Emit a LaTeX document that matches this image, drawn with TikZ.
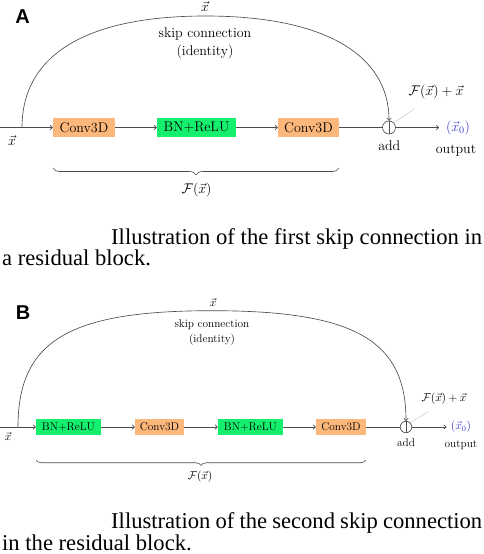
\RequirePackage{fix-cm}
\documentclass[tikz,border=0pt]{standalone}
\usepackage{fontspec}
\usetikzlibrary{arrows.meta,decorations.pathreplacing}
\newfontfamily\capfont{Liberation Serif}
\newfontfamily\panelfont{Liberation Sans}
\definecolor{convc}{RGB}{252,183,122}
\definecolor{bnc}{RGB}{20,240,110}
\definecolor{xblue}{RGB}{55,55,205}
\tikzset{
  ln/.style={draw=black!70, line width=0.65pt},
  arr/.style={ln, -{To[length=3pt,width=5pt]}},
  fontA/.style={font=\fontsize{14}{16}\selectfont},
  fontB/.style={font=\fontsize{11.3}{13}\selectfont},
  convbox/.style={fill=convc, inner sep=0pt},
  bnbox/.style={fill=bnc, inner sep=0pt},
  addc/.style={circle, ln, inner sep=0pt},
  txt/.style={inner sep=0pt, text=black},
  ptr/.style={draw=black!25, line width=0.4pt},
  panel/.style={inner sep=0pt, font=\panelfont\bfseries\fontsize{20}{20}\selectfont},
  capt/.style={inner sep=0pt, font=\capfont\fontsize{22.6}{26}\selectfont},
  brc/.style={ln, decorate},
}
\begin{document}
\begin{tikzpicture}[x=1pt,y=-1pt]
\useasboundingbox (0,0) rectangle (484,554);

% ---------------- Panel A ----------------
\node[panel] (labA) at (22.5,16.5) {A};
\coordinate (inA) at (0,127.5);
\coordinate (splitA) at (22,127.5);
\coordinate (topA) at (205.5,16);
\node[convbox, fontA, minimum width=62pt, minimum height=19pt] (cA1) at (84,127.5) {Conv3D};
\node[bnbox, fontA, minimum width=79pt, minimum height=19pt] (bA1) at (196.5,127.5) {BN+ReLU};
\node[convbox, fontA, minimum width=61pt, minimum height=19pt] (cA2) at (308.5,127.5) {Conv3D};
\node[addc, minimum size=13pt] (addA) at (389,127.5) {};
\draw[ln] (addA.north) -- (addA.south);
\coordinate (endA) at (439,127.5);
\node[txt, fontA, text=xblue] (outA) at (458,127.5) {$(\vec{x}_0)$};
\node[txt, fontA] (outlA) at (456,151) {output};
\node[txt, fontA] (addlA) at (389.3,146) {add};
\node[txt, fontA] (xinA) at (12,141) {$\vec{x}$};
\node[txt, fontA] (xtopA) at (205,7) {$\vec{x}$};
\node[txt, fontA] (skipA) at (205,34) {skip connection};
\node[txt, fontA] (idA) at (205,52) {(identity)};
\node[txt, fontA] (sumA) at (436,91.5) {$\mathcal{F}(\vec{x})+\vec{x}$};
\coordinate (ptrA) at (415,108.5);
\draw[ln] (inA) -- (splitA);
\draw[arr] (splitA) -- (cA1);
\draw[arr] (cA1) -- (bA1);
\draw[arr] (bA1) -- (cA2);
\draw[ln] (cA2) -- (addA);
\draw[arr] (addA) -- (endA);
\draw[arr] (splitA) .. controls (22,55) and (86.2,16) .. (topA)
               .. controls (324.8,16) and (389,55) .. (addA.north);
\draw[ptr] (addA.45) -- (ptrA);
\coordinate (brA1) at (53,168);
\coordinate (brA2) at (339,168);
\draw[brc, decoration={brace, mirror, amplitude=7pt}] (brA1) -- (brA2);
\node[txt, fontA] (FA) at (196.5,190) {$\mathcal{F}(\vec{x})$};

\node[capt, anchor=base west] (capA1) at (111,244.5) {\makebox[371pt][s]{Illustration of the first skip connection in}};
\node[capt, anchor=base west] (capA2) at (2,265.5) {a residual block.};

% ---------------- Panel B ----------------
\node[panel] (labB) at (23,312.5) {B};
\coordinate (inB) at (0,427);
\coordinate (splitB) at (18,427);
\coordinate (topB) at (212,310.7);
\node[bnbox, fontB, minimum width=65pt, minimum height=16pt] (bB1) at (68.5,427) {BN+ReLU};
\node[convbox, fontB, minimum width=49pt, minimum height=16pt] (cB1) at (159.5,427) {Conv3D};
\node[bnbox, fontB, minimum width=65pt, minimum height=16pt] (bB2) at (250.5,427) {BN+ReLU};
\node[convbox, fontB, minimum width=50pt, minimum height=16pt] (cB2) at (341,427) {Conv3D};
\node[addc, minimum size=11.5pt] (addB) at (406,427) {};
\draw[ln] (addB.north) -- (addB.south);
\coordinate (endB) at (446.5,427);
\node[txt, fontB, text=xblue] (outB) at (461,427) {$(\vec{x}_0)$};
\node[txt, fontB] (outlB) at (461,445) {output};
\node[txt, fontB] (addlB) at (406,442.7) {add};
\node[txt, fontB] (xinB) at (8,436.5) {$\vec{x}$};
\node[txt, fontB] (xtopB) at (213,302.7) {$\vec{x}$};
\node[txt, fontB] (skipB) at (212,324.3) {skip connection};
\node[txt, fontB] (idB) at (212,339.3) {(identity)};
\node[txt, fontB] (sumB) at (444,398.3) {$\mathcal{F}(\vec{x})+\vec{x}$};
\coordinate (ptrB) at (428.5,411.5);
\draw[ln] (inB) -- (splitB);
\draw[arr] (splitB) -- (bB1);
\draw[arr] (bB1) -- (cB1);
\draw[arr] (cB1) -- (bB2);
\draw[arr] (bB2) -- (cB2);
\draw[ln] (cB2) -- (addB);
\draw[arr] (addB) -- (endB);
\draw[arr] (splitB) .. controls (18,340) and (70,310.7) .. (topB)
               .. controls (354,310.7) and (406,340) .. (addB.north);
\draw[ptr] (addB.45) -- (ptrB);
\coordinate (brB1) at (36,460);
\coordinate (brB2) at (366,460);
\draw[brc, decoration={brace, mirror, amplitude=5.5pt}] (brB1) -- (brB2);
\node[txt, fontB] (FB) at (200,477) {$\mathcal{F}(\vec{x})$};

\node[capt, anchor=base west] (capB1) at (111,528.5) {\makebox[371pt][s]{Illustration of the second skip connection}};
\node[capt, anchor=base west] (capB2) at (2,550) {in the residual block.};
\end{tikzpicture}
\end{document}
